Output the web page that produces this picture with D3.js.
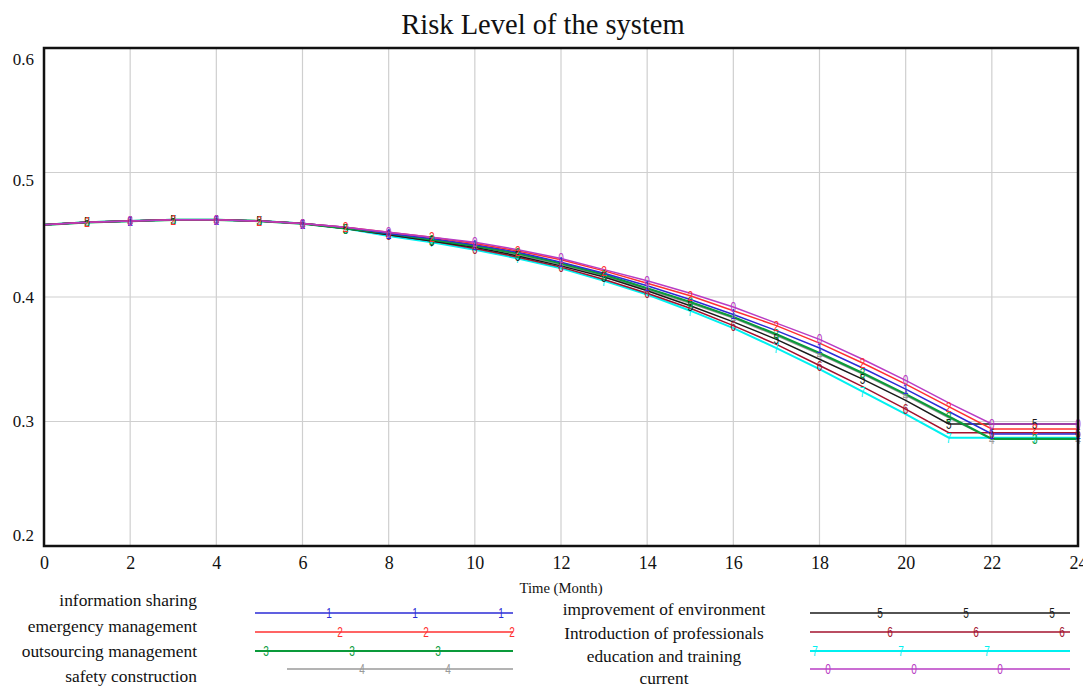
<!DOCTYPE html>
<html lang="en">
<head>
  <meta charset="UTF-8" />
  <title>Risk Level of the system</title>
  <script src="https://d3js.org/d3.v7.min.js"></script>
  <style>
    body { margin: 0; background: #fff; }
    text { font-family: "Liberation Serif", "Times New Roman", serif; fill: #111; }
    .grid line { stroke: #cfcfcf; stroke-width: 1.2px; }
    .marker { font-family: "Liberation Sans", Arial, sans-serif; font-size: 14px; }
  </style>
</head>
<body>
  <svg id="chart" width="1083" height="686"></svg>

  <script>
    // ---- data ----
    const months = d3.range(0, 25);
    const yTicks = [0.2, 0.3, 0.4, 0.5, 0.6];
    const xTicks = d3.range(0, 25, 2);

    const names = ["information sharing", "emergency management", "outsourcing management",
      "safety construction", "improvement of environment", "Introduction of professionals",
      "education and training", "current"];
    const ids = ["1", "2", "3", "4", "5", "6", "7", "0"];
    const colors = ["#2b2bd6", "#ff3030", "#0a9a3a", "#9a9a9a", "#1a1a1a", "#a3122e", "#00f0f0", "#b83cc4"];
    const widths = [1.5, 1.5, 2.2, 1.5, 1.5, 1.5, 2, 1.5];
    const markerStart = [2, 1, 1, 2, 1, 2, 1, 2];

    const infoSharing = [0.458, 0.460, 0.461, 0.462, 0.462, 0.461, 0.459, 0.456, 0.451, 0.447, 0.442, 0.436, 0.428,
      0.419, 0.409, 0.398, 0.386, 0.373, 0.359, 0.343, 0.326, 0.308, 0.290, 0.290, 0.290];
    const emergency = [0.458, 0.460, 0.461, 0.462, 0.462, 0.461, 0.459, 0.456, 0.452, 0.448, 0.443, 0.437, 0.430,
      0.421, 0.411, 0.401, 0.389, 0.377, 0.363, 0.347, 0.330, 0.312, 0.294, 0.294, 0.294];
    const outsourcing = [0.458, 0.460, 0.461, 0.462, 0.462, 0.461, 0.459, 0.455, 0.451, 0.446, 0.441, 0.435, 0.427,
      0.418, 0.407, 0.396, 0.384, 0.370, 0.355, 0.339, 0.322, 0.304, 0.286, 0.286, 0.286];
    const safety = [0.458, 0.460, 0.461, 0.462, 0.462, 0.461, 0.459, 0.455, 0.451, 0.446, 0.441, 0.434, 0.426,
      0.417, 0.406, 0.395, 0.383, 0.369, 0.354, 0.338, 0.321, 0.303, 0.286, 0.286, 0.286];
    const environment = [0.458, 0.460, 0.461, 0.462, 0.462, 0.461, 0.459, 0.455, 0.450, 0.445, 0.440, 0.433, 0.425,
      0.416, 0.405, 0.393, 0.380, 0.366, 0.350, 0.334, 0.317, 0.298, 0.298, 0.298, 0.298];
    const professionals = [0.458, 0.460, 0.461, 0.462, 0.462, 0.461, 0.459, 0.455, 0.450, 0.445, 0.439, 0.432, 0.424,
      0.414, 0.403, 0.391, 0.377, 0.362, 0.345, 0.328, 0.310, 0.291, 0.291, 0.291, 0.291];
    const education = [0.458, 0.460, 0.461, 0.462, 0.462, 0.461, 0.459, 0.455, 0.449, 0.444, 0.438, 0.431, 0.423,
      0.413, 0.402, 0.389, 0.375, 0.359, 0.342, 0.324, 0.306, 0.287, 0.287, 0.287, 0.287];
    const current = [0.458, 0.460, 0.461, 0.462, 0.462, 0.461, 0.459, 0.456, 0.452, 0.448, 0.444, 0.438, 0.431,
      0.422, 0.413, 0.403, 0.392, 0.379, 0.366, 0.350, 0.333, 0.315, 0.298, 0.298, 0.298];

    const seriesValues = [infoSharing, emergency, outsourcing, safety, environment, professionals, education, current];
    const drawOrder = [3, 6, 5, 4, 2, 0, 1, 7];

    // ---- layout ----
    const svg = d3.select("#chart");
    const plot = { left: 44, right: 1078, top: 48, bottom: 546 };

    const x = d3.scaleLinear().domain([0, 24]).range([plot.left, plot.right]);
    const y = d3.scaleLinear().domain([0.2, 0.6]).range([plot.bottom, plot.top]);

    svg.append("text")
      .attr("x", 543).attr("y", 34)
      .attr("text-anchor", "middle")
      .style("font-size", "28.5px")
      .text("Risk Level of the system");

    // grid
    const grid = svg.append("g").attr("class", "grid");
    grid.selectAll("line.v")
      .data(xTicks.filter(d => d > 0 && d < 24))
      .join("line")
      .attr("x1", d => x(d)).attr("x2", d => x(d))
      .attr("y1", plot.top).attr("y2", plot.bottom);
    grid.selectAll("line.h")
      .data(yTicks.filter(d => d > 0.2 && d < 0.6))
      .join("line")
      .attr("x1", plot.left).attr("x2", plot.right)
      .attr("y1", d => y(d)).attr("y2", d => y(d));

    // axes (labels only, frame drawn separately)
    const yAxis = svg.append("g")
      .attr("transform", `translate(${plot.left},0)`)
      .call(d3.axisLeft(y).tickValues(yTicks).tickSize(0).tickPadding(10).tickFormat(d3.format(".1f")));
    yAxis.select(".domain").remove();
    yAxis.selectAll("text")
      .style("font-size", "17px")
      .style("font-family", "Liberation Serif, serif")
      .attr("dy", d => d === 0.6 ? "0.95em" : d === 0.2 ? "-0.3em" : d === 0.5 ? "0.75em" : "0.32em");

    const xAxis = svg.append("g")
      .attr("transform", `translate(0,${plot.bottom})`)
      .call(d3.axisBottom(x).tickValues(xTicks).tickSize(0).tickPadding(10));
    xAxis.select(".domain").remove();
    xAxis.selectAll("text")
      .style("font-size", "18px")
      .style("font-family", "Liberation Serif, serif");

    svg.append("text")
      .attr("x", 561).attr("y", 593)
      .attr("text-anchor", "middle")
      .style("font-size", "14.7px")
      .text("Time (Month)");

    // series lines
    const line = d3.line()
      .x((d, i) => x(months[i]))
      .y(d => y(d));

    const markerAt = (mx, my) => `translate(${mx},${my}) scale(0.72,1)`;

    const plotG = svg.append("g");
    drawOrder.forEach(k => {
      plotG.append("path")
        .datum(seriesValues[k])
        .attr("fill", "none")
        .attr("stroke", colors[k])
        .attr("stroke-width", widths[k])
        .attr("d", line);
    });
    drawOrder.forEach(k => {
      const pts = months.filter(t => t >= markerStart[k] && (t - markerStart[k]) % 2 === 0);
      plotG.selectAll(null)
        .data(pts)
        .join("text")
        .attr("class", "marker")
        .attr("transform", t => markerAt(x(t), y(seriesValues[k][t])))
        .attr("dy", "0.36em")
        .attr("text-anchor", "middle")
        .style("fill", colors[k])
        .text(ids[k]);
    });

    // frame
    svg.append("rect")
      .attr("x", plot.left).attr("y", plot.top)
      .attr("width", plot.right - plot.left).attr("height", plot.bottom - plot.top)
      .attr("fill", "none").attr("stroke", "#111").attr("stroke-width", 2.5);

    // ---- legend ----
    const rowY = [613, 632, 651, 669];
    const labelY = [600, 626, 651, 676];
    const rightLabelY = [609, 633, 656, 678];
    const legLineStart = [255, 255, 255, 287, 810, 810, 810, 810];
    const legLineEnd = [513, 513, 513, 513, 1070, 1070, 1070, 1070];
    const legMarkFirst = [329, 340, 266, 362, 880, 890, 815, 828];
    const legMarkCount = [3, 3, 3, 2, 3, 3, 3, 3];

    const legend = svg.append("g");
    names.forEach((name, k) => {
      const row = k % 4;
      const left = k < 4;
      legend.append("text")
        .attr("x", left ? 197 : 664)
        .attr("y", left ? labelY[row] : rightLabelY[row])
        .attr("dy", "0.35em")
        .attr("text-anchor", left ? "end" : "middle")
        .style("font-size", left ? "17.4px" : "17.3px")
        .text(name);
      legend.append("line")
        .attr("x1", legLineStart[k]).attr("x2", legLineEnd[k])
        .attr("y1", rowY[row]).attr("y2", rowY[row])
        .attr("stroke", colors[k])
        .attr("stroke-width", widths[k]);
      legend.selectAll(null)
        .data(d3.range(legMarkCount[k]))
        .join("text")
        .attr("class", "marker")
        .attr("transform", i => markerAt(legMarkFirst[k] + i * 86, rowY[row]))
        .attr("dy", "0.36em")
        .attr("text-anchor", "middle")
        .style("fill", colors[k])
        .text(ids[k]);
    });
  </script>
</body>
</html>
